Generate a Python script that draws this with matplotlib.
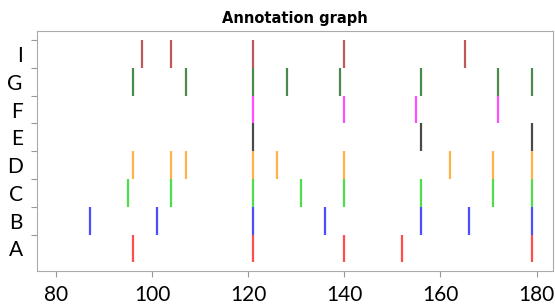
import matplotlib
matplotlib.use("Agg")
import matplotlib.pyplot as plt

# rows from bottom to top
row_labels = ['A', 'B', 'C', 'D', 'E', 'F', 'G', 'I']
row_colors = ['#ff4d4d', '#4d4dff', '#4ddd4d', '#ffb347', '#4a4a4a', '#ff4dff', '#4a8a4a', '#c0585a']

a_pos = [96, 121, 140, 152, 179]
b_pos = [87, 101, 121, 136, 156, 166, 179]
c_pos = [95, 104, 121, 131, 140, 156, 171, 179]
d_pos = [96, 104, 107, 121, 126, 140, 162, 171, 179]
e_pos = [121, 156, 179]
f_pos = [121, 140, 155, 172]
g_pos = [96, 107, 121, 128, 139, 156, 172, 179]
i_pos = [98, 104, 121, 140, 165]

positions = [a_pos, b_pos, c_pos, d_pos, e_pos, f_pos, g_pos, i_pos]
x_ticks = [80, 100, 120, 140, 160, 180]

fig = plt.figure(figsize=(5.55, 3.06), dpi=100)
ax = fig.add_axes([0.066, 0.1154, 0.9304, 0.7833])

ax.eventplot(positions, lineoffsets=range(len(row_labels)), linelengths=1,
             colors=row_colors, linewidths=1.6)

ax.set_xlim(76, 183.4)
ax.set_ylim(-0.8, 7.83)

# tick marks at row boundaries, labels at row centres
ax.set_yticks([i + 0.5 for i in range(len(row_labels))])
ax.set_yticklabels([])
ax.set_yticks(range(len(row_labels)), minor=True)
ax.set_yticklabels(row_labels, minor=True, fontsize=15, family='Lato')
ax.tick_params(axis='y', which='minor', length=0, pad=10)
ax.tick_params(axis='y', which='major', length=4, color='#999999')

ax.set_xticks(x_ticks)
ax.set_xticklabels([str(t) for t in x_ticks], fontsize=15, family='Lato')
ax.tick_params(axis='x', length=4, color='#999999', pad=6)

for s in ax.spines.values():
    s.set_color('#aaaaaa')

ax.set_title('Annotation graph', fontsize=10.5, fontweight='bold',
             family='DejaVu Sans', pad=6)

fig.savefig('out.png', dpi=100)
